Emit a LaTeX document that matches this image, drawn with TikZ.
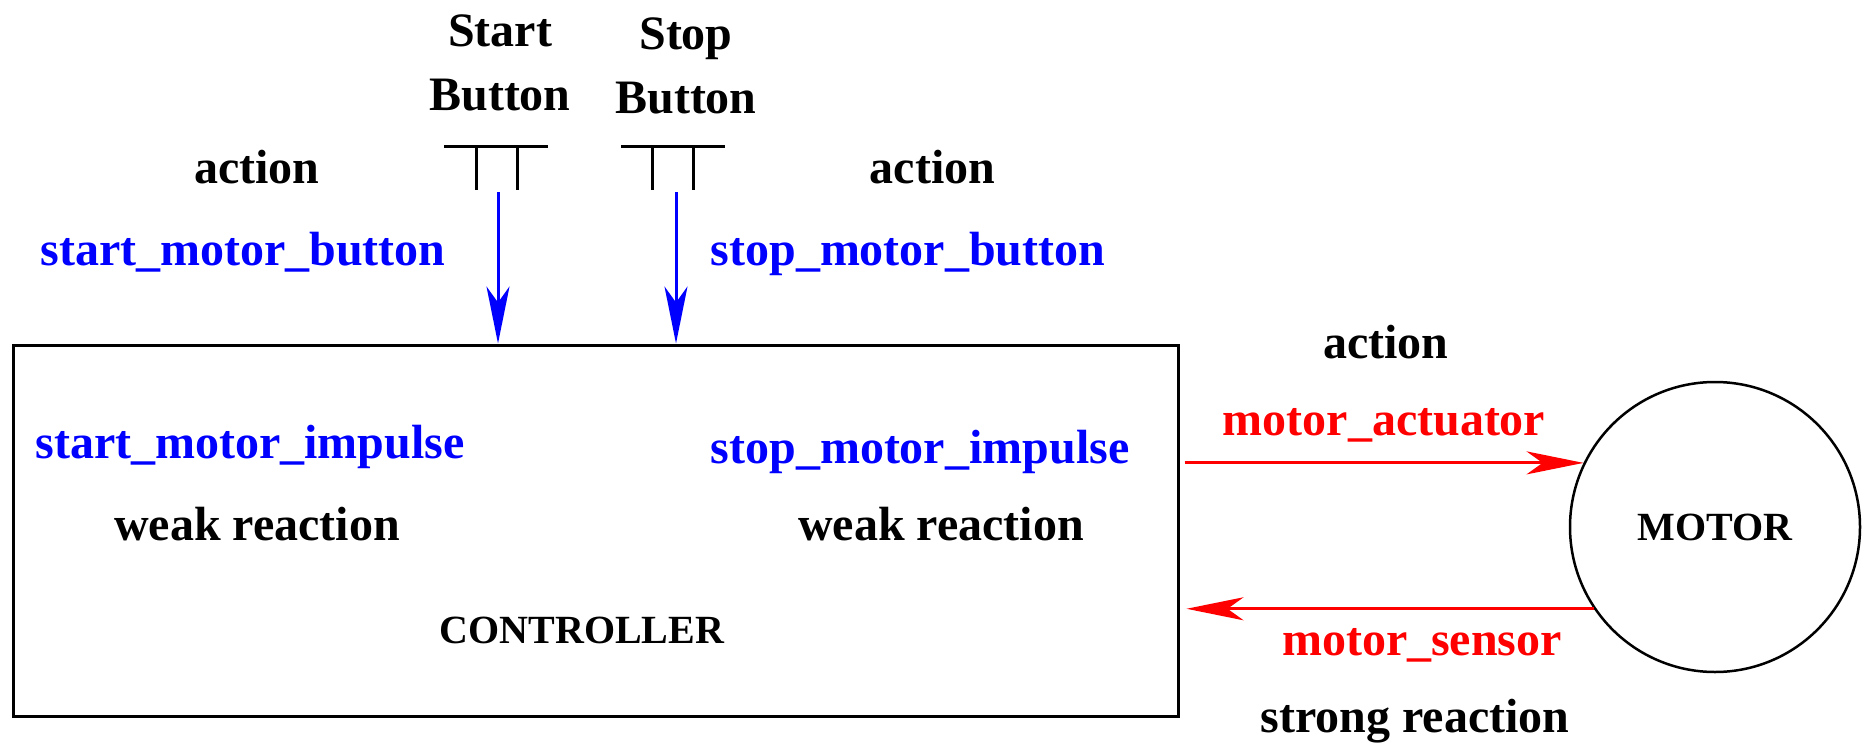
\documentclass[tikz,border=0pt]{standalone}
\usepackage{fontspec}
\setmainfont{Liberation Serif}
\usetikzlibrary{arrows.meta}
\definecolor{sigblue}{RGB}{0,0,255}
\definecolor{sigred}{RGB}{255,0,0}
\tikzset{
  big/.style={font=\fontsize{48}{64}\selectfont\bfseries, inner sep=0pt, anchor=base},
  small/.style={font=\fontsize{40}{48}\selectfont\bfseries},
  frame/.style={draw=black, line width=3pt},
  btn/.style={draw=black, line width=3pt},
  sigarrow/.style={line width=3pt, -{Stealth[length=57pt, width=23pt, inset=16pt]}},
  bluesig/.style={sigarrow, draw=sigblue, fill=sigblue},
  redsig/.style={sigarrow, draw=sigred, fill=sigred},
}
\begin{document}
\begin{tikzpicture}[x=1pt, y=-1pt]
\useasboundingbox (0,0) rectangle (1864,744);

% controller and motor
\node[frame, minimum width=1165pt, minimum height=371pt, inner sep=0pt] (ctrl) at (595.5,530.5) {};
\node[small, anchor=base] (ctrllabel) at (582,643) {CONTROLLER};
\node[draw=black, line width=2.5pt, circle, minimum size=290pt, inner sep=0pt, small] (motor) at (1715,527) {MOTOR};

% push buttons (labels anchored on the baseline of their last line)
\node[big, align=center] (startlbl) at (500,110) {Start\\Button};
\node[big, align=center] (stoplbl) at (686,113) {Stop\\Button};
\draw[btn] (444,146) -- (548,146) (476,146) -- (476,190) (517,146) -- (517,190);
\draw[btn] (621,146) -- (725,146) (652,146) -- (652,190) (693,146) -- (693,190);
\coordinate (startout) at (498,192);
\coordinate (stopout) at (676,192);

% button signals
\draw[bluesig] (startout) -- (startout |- ctrl.north);
\draw[bluesig] (stopout) -- (stopout |- ctrl.north);
\node[big] (act1) at (257,183) {action};
\node[big, text=sigblue] (smb) at (243,265) {start\_motor\_button};
\node[big] (act2) at (932.5,183) {action};
\node[big, text=sigblue] (stmb) at (908,265) {stop\_motor\_button};

% inside the controller
\node[big, text=sigblue] (smi) at (250,458) {start\_motor\_impulse};
\node[big] (wr1) at (257,540) {weak reaction};
\node[big, text=sigblue] (stmi) at (920,463) {stop\_motor\_impulse};
\node[big] (wr2) at (941,540) {weak reaction};

% motor signals
\draw[redsig] ([xshift=5pt]ctrl.east |- motor.154) -- (motor.154);
\draw[redsig] (motor.214) -- ([xshift=7pt]ctrl.east |- motor.214);
\node[big] (act3) at (1386,358) {action};
\node[big, text=sigred] (ma) at (1384,435) {motor\_actuator};
\node[big, text=sigred] (ms) at (1422,655) {motor\_sensor};
\node[big] (sr) at (1415,732) {strong reaction};
\end{tikzpicture}
\end{document}
